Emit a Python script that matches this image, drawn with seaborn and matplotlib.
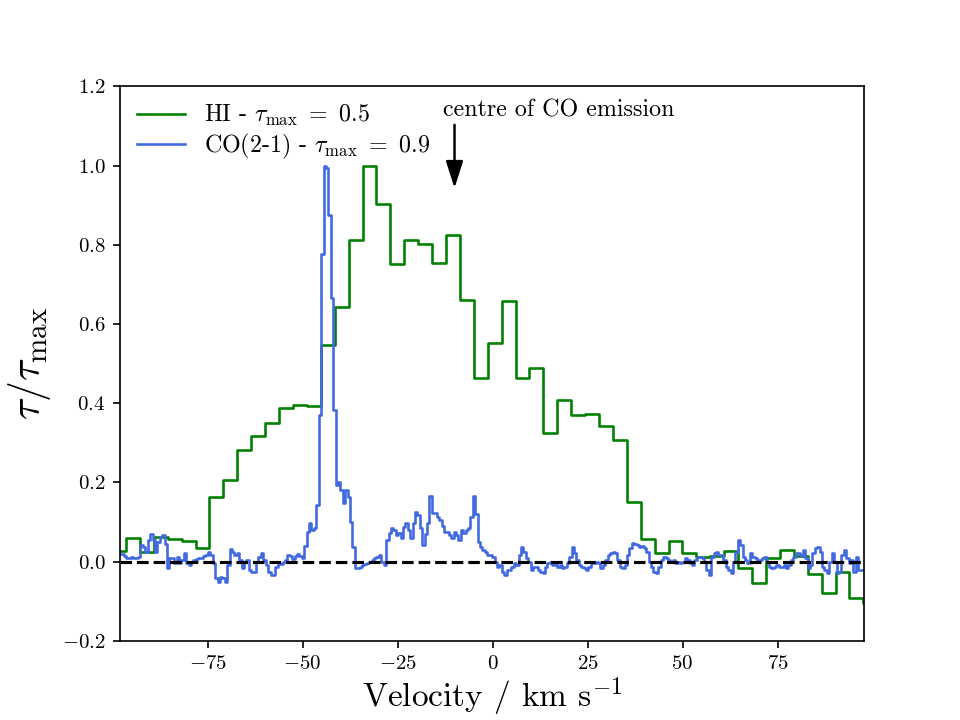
import numpy as np
import matplotlib
matplotlib.use("Agg")
import matplotlib.pyplot as plt
import seaborn as sns

# HI 吸收谱（粗通道），tau / tau_max
hi_v0 = -98.28
hi_dv = 3.661
hi_tau = [
    0.028, 0.059, 0.024, 0.062, 0.058, 0.053, 0.035, 0.163, 0.205, 0.281,
    0.316, 0.351, 0.389, 0.395, 0.394, 0.547, 0.644, 0.813, 1.000, 0.903,
    0.752, 0.811, 0.803, 0.755, 0.825, 0.661, 0.464, 0.551, 0.657, 0.464,
    0.490, 0.324, 0.409, 0.370, 0.373, 0.343, 0.306, 0.151, 0.057, 0.021,
    0.053, 0.021, 0.012, 0.013, 0.027, -0.015, -0.054, 0.008, 0.030, 0.013,
    -0.031, -0.080, -0.026, -0.093, -0.105,
]

# CO(2-1) 吸收谱（细通道）
co_v0 = -98.03
co_dv = 0.6338
co_tau = [
    0.020, 0.020, 0.015, 0.010, 0.010, 0.012, 0.008, 0.010, 0.012, 0.042,
    0.038, 0.025, 0.055, 0.070, 0.055, 0.025, 0.050, 0.062, 0.066, 0.045,
    -0.017, 0.008, 0.010, -0.004, 0.012, -0.004, 0.004, 0.022, -0.004, -0.008,
    0.000, 0.004, 0.006, 0.008, 0.010, 0.013, 0.017, 0.025, 0.017, -0.004,
    -0.042, -0.051, -0.038, -0.042, -0.051, -0.008, 0.031, 0.025, 0.017, 0.021,
    0.004, -0.017, 0.000, 0.004, -0.021, -0.025, -0.025, 0.000, 0.012, 0.021,
    0.004, -0.008, -0.025, -0.033, -0.034, -0.013, -0.004, -0.006, 0.000, 0.004,
    0.017, 0.013, 0.006, 0.013, 0.019, 0.013, 0.010, 0.040, 0.076, 0.097,
    0.080, 0.084, 0.143, 0.370, 0.778, 1.000, 0.995, 0.875, 0.665, 0.383,
    0.193, 0.200, 0.181, 0.147, 0.180, 0.164, 0.100, 0.038, -0.015, -0.015,
    -0.013, -0.009, -0.006, -0.004, 0.000, 0.004, 0.010, 0.012, 0.017, 0.000,
    -0.009, 0.055, 0.071, 0.084, 0.080, 0.067, 0.071, 0.059, 0.088, 0.097,
    0.080, 0.059, 0.097, 0.126, 0.118, 0.084, 0.042, 0.070, 0.097, 0.166,
    0.122, 0.122, 0.113, 0.105, 0.090, 0.076, 0.076, 0.067, 0.059, 0.076,
    0.067, 0.055, 0.080, 0.071, 0.080, 0.084, 0.113, 0.166, 0.120, 0.050,
    0.038, 0.029, 0.025, 0.017, 0.017, 0.012, 0.000, -0.013, -0.009, -0.025,
    -0.034, -0.021, -0.021, -0.013, -0.004, -0.009, 0.017, 0.038, 0.025, 0.008,
    0.000, -0.021, -0.013, -0.013, -0.021, -0.025, -0.030, -0.013, -0.004, 0.000,
    -0.009, 0.000, -0.013, -0.009, -0.017, -0.013, -0.004, 0.012, 0.038, 0.021,
    0.004, -0.009, -0.013, -0.017, -0.021, -0.013, -0.004, -0.004, 0.000, -0.004,
    -0.017, -0.009, 0.004, 0.017, 0.021, 0.025, 0.021, 0.004, -0.013, -0.017,
    -0.009, 0.017, 0.034, 0.046, 0.044, 0.042, 0.038, 0.039, 0.034, 0.025,
    0.000, -0.013, -0.025, -0.030, -0.013, 0.004, 0.012, 0.008, 0.004, 0.000,
    0.004, -0.004, 0.000, -0.004, 0.000, 0.008, 0.004, -0.004, -0.009, 0.004,
    0.011, 0.012, 0.008, 0.000, -0.021, -0.034, 0.012, 0.021, 0.023, 0.017,
    0.017, 0.004, -0.013, -0.021, -0.030, 0.000, 0.025, 0.055, 0.042, 0.012,
    0.004, -0.004, 0.021, 0.012, 0.008, 0.000, 0.004, 0.008, 0.012, 0.000,
    -0.013, -0.017, -0.013, -0.009, -0.013, -0.013, -0.009, -0.017, -0.009, 0.004,
    0.012, 0.021, 0.021, 0.017, 0.029, 0.008, -0.017, -0.009, 0.021, 0.034,
    0.038, 0.025, -0.013, -0.021, -0.030, 0.000, 0.021, 0.000, -0.030, -0.025,
    0.017, 0.029, 0.008, -0.004, 0.004, -0.025, 0.012, -0.021, -0.021, -0.021,
]

hi_label = r"HI - $\tau_{\mathrm{max}}\ =\ 0.5$"
co_label = r"CO(2-1) - $\tau_{\mathrm{max}}\ =\ 0.9$"
co_centre_vel = -10.0

# 字体：尽量接近 LaTeX 的 Computer Modern
plt.rcParams["font.family"] = ["cmr10", "DejaVu Serif"]
plt.rcParams["mathtext.fontset"] = "cm"
plt.rcParams["axes.formatter.use_mathtext"] = True

hi_vel = hi_v0 + hi_dv * np.arange(len(hi_tau))
co_vel = co_v0 + co_dv * np.arange(len(co_tau))

fig, ax = plt.subplots(figsize=(6.4, 4.8), dpi=150)

sns.lineplot(x=hi_vel, y=hi_tau, ax=ax, color="green", linewidth=1.25,
             drawstyle="steps-mid", label=hi_label)
sns.lineplot(x=co_vel, y=co_tau, ax=ax, color="royalblue", linewidth=1.25,
             drawstyle="steps-mid", label=co_label)
ax.axhline(0, color="black", linestyle="--", linewidth=1.5, zorder=5)

# 箭头标一下 CO 发射中心
ax.annotate("", xy=(co_centre_vel, 0.943), xytext=(co_centre_vel, 1.103),
            arrowprops=dict(arrowstyle="-|>,head_length=1.1,head_width=0.35",
                            color="black", lw=1.2, shrinkA=0, shrinkB=0,
                            mutation_scale=10))
ax.text(-13.1, 1.125, "centre of CO emission", fontsize=11.5, va="baseline", ha="left")

ax.set_xlim(-98.03, 97.76)
ax.set_ylim(-0.2, 1.2)
ax.set_xticks([-75, -50, -25, 0, 25, 50, 75])
ax.set_yticks(np.round(np.arange(-0.2, 1.21, 0.2), 1))
ax.tick_params(labelsize=10)

ax.set_xlabel(r"Velocity / km s$^{-1}$", fontsize=16, labelpad=1)
ax.set_ylabel(r"$\tau/\tau_{\mathrm{max}}$", fontsize=20)
ax.legend(loc="upper left", frameon=False, fontsize=11.5,
          labelspacing=0.15, borderaxespad=0.3)

fig.savefig("out.png", dpi=150)
